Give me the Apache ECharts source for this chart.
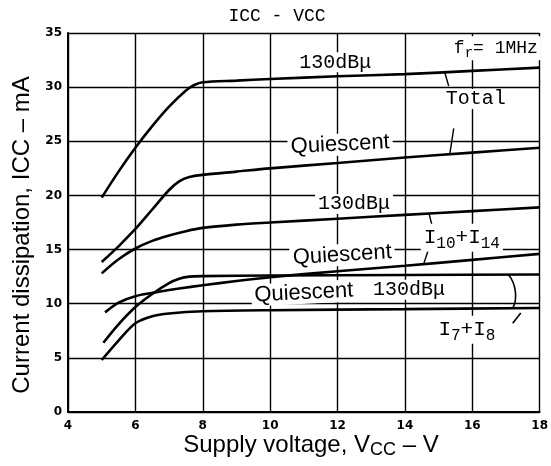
<!DOCTYPE html>
<html>
<head>
<meta charset="utf-8">
<script src="https://cdn.jsdelivr.net/npm/echarts@6/dist/echarts.min.js"></script>
<style>
  html, body { margin: 0; padding: 0; background: #fff; }
  #chart { width: 551px; height: 466px; }
</style>
</head>
<body>
<div id="chart"></div>
<script>
// Supply current vs supply voltage, fr = 1 MHz
const xTicks = [4, 6, 8, 10, 12, 14, 16, 18];
const yTicks = [0, 5, 10, 15, 20, 25, 30, 35];

// [Vcc (V), Icc (mA)]
const total130 = [[5, 19.8], [5.5, 22.2], [6, 24.4], [6.5, 26.4], [7, 28.2], [7.5, 29.7], [7.75, 30.2], [8, 30.45], [9, 30.6], [10, 30.75], [12, 31.0], [14, 31.2], [16, 31.5], [18, 31.8]];
const totalQuiescent = [[5, 13.85], [5.5, 15.3], [6, 16.9], [6.5, 18.7], [7, 20.5], [7.3, 21.3], [7.6, 21.7], [8, 21.9], [9, 22.2], [10, 22.5], [12, 23.0], [14, 23.5], [16, 23.95], [18, 24.4]];
const i1014_130 = [[5, 12.8], [5.5, 14.1], [6, 15.1], [6.5, 15.8], [7, 16.3], [7.5, 16.7], [8, 17.0], [9, 17.3], [10, 17.5], [12, 17.85], [14, 18.2], [16, 18.55], [18, 18.9]];
const i1014_quiescent = [[5.1, 9.2], [5.5, 10.1], [6, 10.7], [6.7, 11.1], [7.3, 11.4], [8, 11.7], [9, 12.1], [10, 12.45], [12, 13.0], [14, 13.5], [16, 14.05], [18, 14.6]];
const i78_130 = [[5.05, 6.4], [5.5, 8.1], [6, 9.7], [6.5, 10.9], [7, 11.9], [7.3, 12.3], [7.6, 12.5], [8, 12.55], [10, 12.6], [14, 12.65], [18, 12.7]];
const i78_quiescent = [[5, 4.8], [5.5, 6.6], [6, 8.2], [6.5, 8.85], [7, 9.1], [8, 9.3], [10, 9.4], [14, 9.5], [18, 9.6]];

const MONO = '"Liberation Mono", "DejaVu Sans Mono", monospace';
const SANS = '"Liberation Sans", Arial, sans-serif';
const TICK = '"DejaVu Sans", sans-serif';

function curve(name, data) {
  return {
    name, type: 'line', data, smooth: 0.3, symbol: 'none',
    lineStyle: { color: '#000', width: 2.6 }, z: 5
  };
}

const option = {
  backgroundColor: '#fff',
  animation: false,
  title: {
    text: 'ICC - VCC',
    left: 272, top: 2, textAlign: 'center',
    textStyle: { fontFamily: MONO, fontSize: 18, fontWeight: 'normal', color: '#000' }
  },
  grid: { left: 68, right: 10, top: 33, bottom: 54 },
  xAxis: {
    type: 'value', min: 4, max: 18, interval: 2,
    axisLine: { show: true, onZero: false, lineStyle: { color: '#000', width: 2 } },
    axisTick: { show: false },
    splitLine: { show: true, lineStyle: { color: '#000', width: 1.4 } },
    axisLabel: {
      margin: 8, color: '#000', fontFamily: TICK, fontWeight: 'bold', fontSize: 12,
      formatter: v => xTicks.includes(v) ? String(v) : ''
    }
  },
  yAxis: {
    type: 'value', min: 0, max: 35, interval: 5,
    axisLine: { show: true, lineStyle: { color: '#000', width: 2 } },
    axisTick: { show: false },
    splitLine: { show: true, lineStyle: { color: '#000', width: 1.4 } },
    axisLabel: {
      margin: 6, color: '#000', fontFamily: TICK, fontWeight: 'bold', fontSize: 12,
      formatter: v => yTicks.includes(v) ? String(v) : ''
    }
  },
  series: [
    curve('Total 130dBμ', total130),
    curve('Total quiescent', totalQuiescent),
    curve('I10+I14 130dBμ', i1014_130),
    curve('I10+I14 quiescent', i1014_quiescent),
    curve('I7+I8 130dBμ', i78_130),
    curve('I7+I8 quiescent', i78_quiescent)
  ]
};

const chart = echarts.init(document.getElementById('chart'));
chart.setOption(option);

const P = (x, y) => chart.convertToPixel({ gridIndex: 0 }, [x, y]);

const subRich = (size) => ({
  m: { fontFamily: MONO, fontSize: size, color: '#000' },
  s: { fontFamily: MONO, fontSize: Math.round(size * 0.75), color: '#000', padding: [Math.round(size * 0.55), 0, 0, 0] }
});

// text annotations anchored in data space (centre of the text)
const notes = [
  { at: [11.93, 32.3], text: '130dBμ', font: MONO, size: 20 },
  { at: [16.7, 33.6], text: '{m|f}{s|r}{m|= 1MHz}', rich: subRich(18) },
  { at: [16.1, 28.9], text: 'Total', font: MONO, size: 20 },
  { at: [12.08, 24.7], text: 'Quiescent', font: SANS, size: 22, rot: 0.05 },
  { at: [12.49, 19.2], text: '130dBμ', font: MONO, size: 20 },
  { at: [12.14, 14.5], text: 'Quiescent', font: SANS, size: 22, rot: 0.06 },
  { at: [15.69, 16.1], text: '{m|I}{s|10}{m|+I}{s|14}', rich: subRich(21) },
  { at: [11.0, 11.0], text: 'Quiescent', font: SANS, size: 22, rot: 0.05 },
  { at: [14.12, 11.3], text: '130dBμ', font: MONO, size: 20 },
  { at: [15.84, 7.6], text: '{m|I}{s|7}{m|+I}{s|8}', rich: subRich(21) }
];

// leader lines from labels to their curves
const leaders = [
  [[15.3, 30.1], [15.18, 31.4]],
  [[15.45, 26.2], [15.33, 23.75]],
  [[14.8, 17.3], [14.72, 18.3]],
  [[14.7, 15.0], [14.55, 13.6]]
];
const bracket = [[17.08, 12.65], [17.28, 11.1], [17.2, 9.6]];
const tick78 = [[17.44, 9.15], [17.2, 8.2]];

const graphics = [];
notes.forEach(n => {
  const p = P(n.at[0], n.at[1]);
  graphics.push({
    type: 'text', x: p[0], y: p[1], rotation: n.rot || 0, z: 20,
    style: {
      text: n.text, rich: n.rich,
      fontFamily: n.font || MONO, fontSize: n.size || 18, fill: '#000',
      align: 'center', verticalAlign: 'middle',
      backgroundColor: '#fff', padding: [0, 3, 0, 3]
    }
  });
});
leaders.forEach(l => {
  graphics.push({
    type: 'polyline', z: 15,
    shape: { points: l.map(q => P(q[0], q[1])) },
    style: { stroke: '#000', lineWidth: 1.4, fill: null }
  });
});
graphics.push({
  type: 'polyline', z: 15,
  shape: { points: bracket.map(q => P(q[0], q[1])), smooth: 0.6 },
  style: { stroke: '#000', lineWidth: 1.6, fill: null }
});
graphics.push({
  type: 'polyline', z: 15,
  shape: { points: tick78.map(q => P(q[0], q[1])) },
  style: { stroke: '#000', lineWidth: 1.6, fill: null }
});

// axis titles
graphics.push({
  type: 'text', x: 311, y: 445, z: 20,
  style: {
    text: '{m|Supply voltage, V}{s|CC}{m| – V}',
    align: 'center', verticalAlign: 'middle',
    rich: {
      m: { fontFamily: SANS, fontSize: 24, color: '#000' },
      s: { fontFamily: SANS, fontSize: 18, color: '#000', padding: [11, 0, 0, 0] }
    }
  }
});
graphics.push({
  type: 'text', x: 22, y: 235, rotation: Math.PI / 2, z: 20,
  style: {
    text: 'Current dissipation, ICC – mA',
    fontFamily: SANS, fontSize: 24, fill: '#000',
    align: 'center', verticalAlign: 'middle'
  }
});

chart.setOption({ graphic: graphics });
</script>
</body>
</html>
